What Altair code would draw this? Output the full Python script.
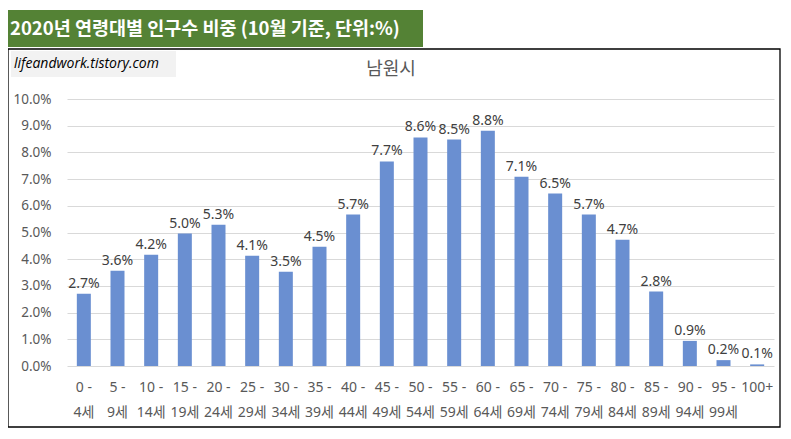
import altair as alt
import pandas as pd

age_top = ["0 -", "5 -", "10 -", "15 -", "20 -", "25 -", "30 -", "35 -", "40 -", "45 -",
           "50 -", "55 -", "60 -", "65 -", "70 -", "75 -", "80 -", "85 -", "90 -", "95 -", "100+"]
age_bottom = ["4세", "9세", "14세", "19세", "24세", "29세", "34세", "39세", "44세", "49세",
              "54세", "59세", "64세", "69세", "74세", "79세", "84세", "89세", "94세", "99세", ""]
share = [0.0271, 0.0357, 0.0417, 0.0496, 0.0529, 0.0413, 0.0353, 0.0447, 0.0567, 0.0766,
         0.0856, 0.0848, 0.0881, 0.0709, 0.0646, 0.0567, 0.0473, 0.0279, 0.0094, 0.0022, 0.0006]

cats = [t + ("\n" + b if b else "") for t, b in zip(age_top, age_bottom)]
df = pd.DataFrame({"age": cats, "share": share})

FONT = "Noto Sans, Noto Sans CJK KR"
W, H = 707, 267

x = alt.X("age:N", sort=cats, title=None,
          scale=alt.Scale(paddingInner=0.584, paddingOuter=0.292),
          axis=alt.Axis(labelExpr="split(datum.value, '\\n')", labelAngle=0,
                        labelBaseline="alphabetic", labelPadding=25, labelLineHeight=25,
                        labelFontSize=14, labelColor="#595959", labelFont=FONT,
                        ticks=False, domain=False, grid=False))
y = alt.Y("share:Q", title=None,
          scale=alt.Scale(domain=[0, 0.1]),
          axis=alt.Axis(format=".1%", values=[i / 100 for i in range(11)],
                        labelFontSize=13.5, labelColor="#595959", labelFont=FONT,
                        labelPadding=16, ticks=False, domain=False,
                        gridColor="#d9d9d9", gridWidth=1))

base = alt.Chart(df)
bars = base.mark_bar(color="#6a8fd1").encode(x=x, y=y)
labels = base.mark_text(baseline="alphabetic", dy=-6, fontSize=14, color="#404040",
                        font=FONT).encode(x=x, y=y, text=alt.Text("share:Q", format=".1%"))

one = alt.Data(values=[{}])
border = alt.Chart(one).mark_rect(fill="transparent", stroke="#000000", strokeWidth=1.3).encode(
    x=alt.value(-59), x2=alt.value(713), y=alt.value(-50), y2=alt.value(328))
banner = alt.Chart(one).mark_rect(fill="#548235").encode(
    x=alt.value(-59), x2=alt.value(356), y=alt.value(-89), y2=alt.value(-52))
banner_text = alt.Chart(one).mark_text(
    text="2020년 연령대별 인구수 비중 (10월 기준, 단위:%)", align="left", baseline="middle",
    fontSize=18.5, fontWeight="bold", color="#ffffff", font="Noto Sans CJK KR").encode(
    x=alt.value(-57), y=alt.value(-70))
wm_box = alt.Chart(one).mark_rect(fill="#f2f2f2").encode(
    x=alt.value(-56), x2=alt.value(109), y=alt.value(-48), y2=alt.value(-22))
wm_text = alt.Chart(one).mark_text(
    text="lifeandwork.tistory.com", align="left", baseline="middle", fontSize=14,
    fontStyle="italic", color="#000000", font="Open Sans").encode(
    x=alt.value(-53), y=alt.value(-35))
title = alt.Chart(one).mark_text(
    text="남원시", align="center", baseline="middle", fontSize=18, color="#595959",
    font="Noto Sans CJK KR").encode(x=alt.value(324), y=alt.value(-29))

chart = alt.layer(border, banner, banner_text, wm_box, wm_text, title, bars, labels).properties(
    width=W, height=H,
    autosize=alt.AutoSizeParams(type="none"),
    padding={"left": 59, "top": 91, "right": 9, "bottom": 65},
    background="#ffffff",
).configure_view(stroke=None)

chart.save("out.html", embed_options={"renderer": "svg", "actions": False})
